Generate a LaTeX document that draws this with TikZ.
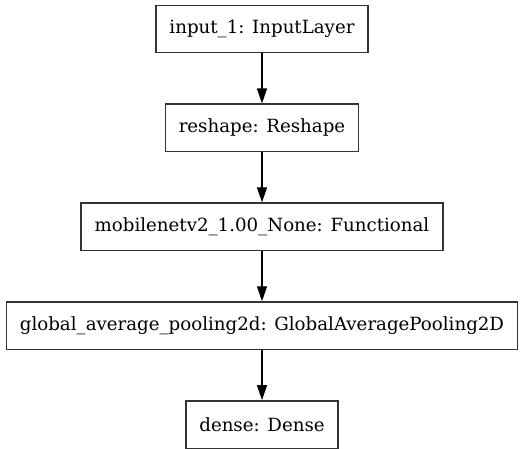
\documentclass[tikz,border=0pt]{standalone}
\usepackage{fontspec}
\setmainfont{DejaVu Serif}
\usetikzlibrary{positioning,arrows.meta}
\definecolor{edge}{HTML}{000000}
\definecolor{border}{HTML}{333333}
\tikzset{
  layer/.style={draw=border, fill=white, line width=1.5pt, align=center, font=\fontsize{18.2}{21}\selectfont,
    minimum height=47.4pt, inner xsep=13.5pt, inner ysep=0pt},
  flow/.style={-{Triangle[length=15pt,width=10pt]}, draw=edge, line width=1.3pt},
}
\begin{document}
\begin{tikzpicture}[x=1pt, y=1pt, node distance=50pt]
    \useasboundingbox (0,0) rectangle (527,-449);
    \node[layer] (in) at (262,-29) {input\_1: InputLayer};
    \node[layer, below=of in] (rs) {reshape: Reshape};
    \node[layer, below=of rs] (mn) {mobilenetv2\_1.00\_None: Functional};
    \node[layer, below=of mn] (gap) {global\_average\_pooling2d: GlobalAveragePooling2D};
    \node[layer, below=of gap] (dn) {dense: Dense};
    \draw[flow] (in)--(rs); \draw[flow] (rs)--(mn); \draw[flow] (mn)--(gap); \draw[flow] (gap)--(dn);
  \end{tikzpicture}
\end{document}
